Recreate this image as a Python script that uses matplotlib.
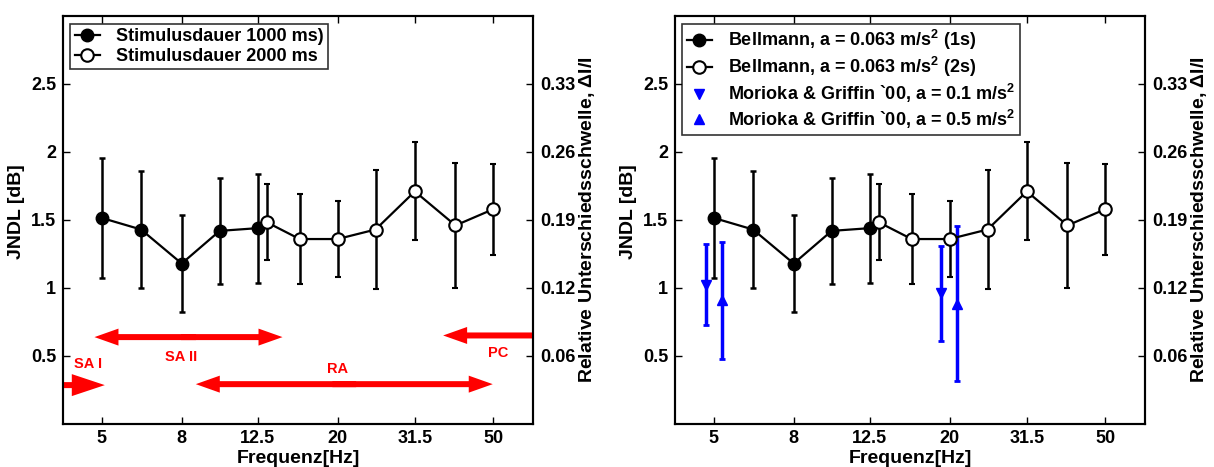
import matplotlib
matplotlib.use("Agg")
import matplotlib.pyplot as plt
from matplotlib.ticker import FixedLocator, NullLocator
from matplotlib.lines import Line2D

plt.rcParams['font.family'] = ['Liberation Sans', 'DejaVu Sans']
plt.rcParams['font.weight'] = 'bold'
plt.rcParams['axes.labelweight'] = 'bold'
plt.rcParams['mathtext.fontset'] = 'custom'
plt.rcParams['mathtext.rm'] = 'Liberation Sans:bold'
plt.rcParams['mathtext.bf'] = 'Liberation Sans:bold'
plt.rcParams['mathtext.it'] = 'Liberation Sans:bold'
plt.rcParams['mathtext.default'] = 'bf'

# ---------------- data ----------------
freq_1000 = [5, 6.3, 8, 10, 12.5]
jndl_1000 = [1.515, 1.43, 1.18, 1.42, 1.44]
err_1000 = [0.44, 0.43, 0.36, 0.39, 0.40]

freq_2000 = [13.2, 16, 20, 25, 31.5, 40, 50]
jndl_2000 = [1.483, 1.36, 1.36, 1.43, 1.71, 1.46, 1.58]
err_2000 = [0.28, 0.33, 0.28, 0.44, 0.36, 0.46, 0.335]

freq_mg01 = [4.77, 19.0]
jndl_mg01 = [1.025, 0.96]
err_mg01 = [0.30, 0.35]

freq_mg05 = [5.24, 20.9]
jndl_mg05 = [0.91, 0.886]
err_mg05 = [0.43, 0.57]

xticks = [5, 8, 12.5, 20, 31.5, 50]
xticklabels = ['5', '8', '12.5', '20', '31.5', '50']
yticks = [0.5, 1, 1.5, 2, 2.5]
yticklabels = ['0.5', '1', '1.5', '2', '2.5']
rticklabels = ['0.06', '0.12', '0.19', '0.26', '0.33']

# receptor frequency ranges: label, from (Hz), to (Hz), level, double-headed?
ranges = ['SA I', 'SA II', 'RA', 'PC']
range_from = [4.0, 4.79, 8.69, 63.0]
range_to = [5.09, 14.47, 49.8, 37.2]
range_level = [0.286, 0.639, 0.293, 0.651]
range_double = [False, True, True, False]
range_label_x = [4.61, 7.98, 19.95, 51.3]
range_label_y = [0.444, 0.493, 0.408, 0.525]

legend_left = ['Stimulusdauer 1000 ms)', 'Stimulusdauer 2000 ms']
legend_right = [r'Bellmann, a = 0.063 m/s$^2$ (1s)', r'Bellmann, a = 0.063 m/s$^2$ (2s)',
                r'Morioka & Griffin `00, a = 0.1 m/s$^2$', r'Morioka & Griffin `00, a = 0.5 m/s$^2$']

fig = plt.figure(figsize=(12.14, 4.67), dpi=100)
W, H = 1214, 467
axL = fig.add_axes([63 / W, 43 / H, 470 / W, 408 / H])
axR = fig.add_axes([675 / W, 43 / H, 470 / W, 408 / H])

TFS = 13
LFS = 14


def base(ax):
    ax.errorbar(freq_1000, jndl_1000, yerr=err_1000, fmt='-o', color='black', lw=1.6,
                ms=9, mfc='black', mec='black', elinewidth=1.8, capsize=2, capthick=1.8)
    ax.errorbar(freq_2000, jndl_2000, yerr=err_2000, fmt='-o', color='black', lw=1.6,
                ms=9, mfc='white', mec='black', mew=1.5, elinewidth=1.8, capsize=2, capthick=1.8)
    ax.set_xscale('log')
    ax.set_xlim(10 ** 0.6, 10 ** 1.8)
    ax.set_ylim(0, 3)
    ax.xaxis.set_major_locator(FixedLocator(xticks))
    ax.xaxis.set_minor_locator(NullLocator())
    ax.set_xticklabels(xticklabels)
    ax.set_yticks(yticks)
    ax.set_yticklabels(yticklabels)
    ax.tick_params(axis='both', direction='in', length=5, width=1, labelsize=TFS, pad=5)
    ax.tick_params(axis='x', top=True, pad=4)
    for s in ax.spines.values():
        s.set_linewidth(1.5)
    ax.set_xlabel('Frequenz[Hz]', fontsize=LFS)
    ax.xaxis.set_label_coords(0.5, -0.064)
    ax.set_ylabel('JNDL [dB]', fontsize=LFS)
    ax.yaxis.set_label_coords(-0.081, 0.52)
    tw = ax.twinx()
    tw.set_ylim(0, 3)
    tw.set_yticks(yticks)
    tw.set_yticklabels(rticklabels)
    tw.tick_params(axis='y', direction='in', length=5, width=1, labelsize=TFS, pad=5)
    tw.set_ylabel(r'Relative Unterschiedsschwelle, $\Delta$I/I', fontsize=LFS)
    tw.yaxis.set_label_coords(1.093, 0.5)
    for s in tw.spines.values():
        s.set_linewidth(1.5)
    h1 = Line2D([], [], color='black', lw=1.6, marker='o', ms=9, mfc='black', mec='black')
    h2 = Line2D([], [], color='black', lw=1.6, marker='o', ms=9, mfc='white', mec='black', mew=1.5)
    return h1, h2


def legend(ax, handles, labels):
    lg = ax.legend(handles, labels, loc='upper left', fontsize=13, frameon=True,
                   fancybox=False, edgecolor='black', borderpad=0.25, labelspacing=0.15,
                   handlelength=1.4, handletextpad=0.9, borderaxespad=0,
                   bbox_to_anchor=(0.015, 0.981))
    lg.get_frame().set_linewidth(1.2)
    return lg


h1, h2 = base(axL)
legend(axL, [h1, h2], legend_left)


def arrow(ax, x0, x1, y, big):
    px = 72.0 / 100.0  # mutation scale so that sizes are in pixels
    hl, hw = (33, 22) if big else (24, 17)
    style = f'simple,head_length={hl},head_width={hw},tail_width=6'
    ax.annotate('', xy=(x1, y), xytext=(x0, y),
                arrowprops=dict(arrowstyle=style, color='red', lw=0, shrinkA=0, shrinkB=0,
                                mutation_scale=px))


for lab, x0, x1, y, dbl, tx, ty in zip(ranges, range_from, range_to, range_level,
                                        range_double, range_label_x, range_label_y):
    if dbl:
        xm = (x0 * x1) ** 0.5
        k = (x1 / x0) ** 0.04  # small overlap so the two halves join seamlessly
        arrow(axL, xm * k, x0, y, False)
        arrow(axL, xm / k, x1, y, False)
    else:
        arrow(axL, x0, x1, y, lab == 'SA I')
    axL.text(tx, ty, lab, color='red', fontsize=10.5, ha='center', va='center', fontweight='bold')

g1, g2 = base(axR)
axR.errorbar(freq_mg01, jndl_mg01, yerr=err_mg01, fmt='v', color='blue', ms=7,
             elinewidth=2.5, capsize=2, capthick=2)
axR.errorbar(freq_mg05, jndl_mg05, yerr=err_mg05, fmt='^', color='blue', ms=7,
             elinewidth=2.5, capsize=2, capthick=2)
p3 = Line2D([], [], ls='none', marker='v', color='blue', ms=7)
p4 = Line2D([], [], ls='none', marker='^', color='blue', ms=7)
legend(axR, [g1, g2, p3, p4], legend_right)

fig.savefig('out.png', dpi=100)
